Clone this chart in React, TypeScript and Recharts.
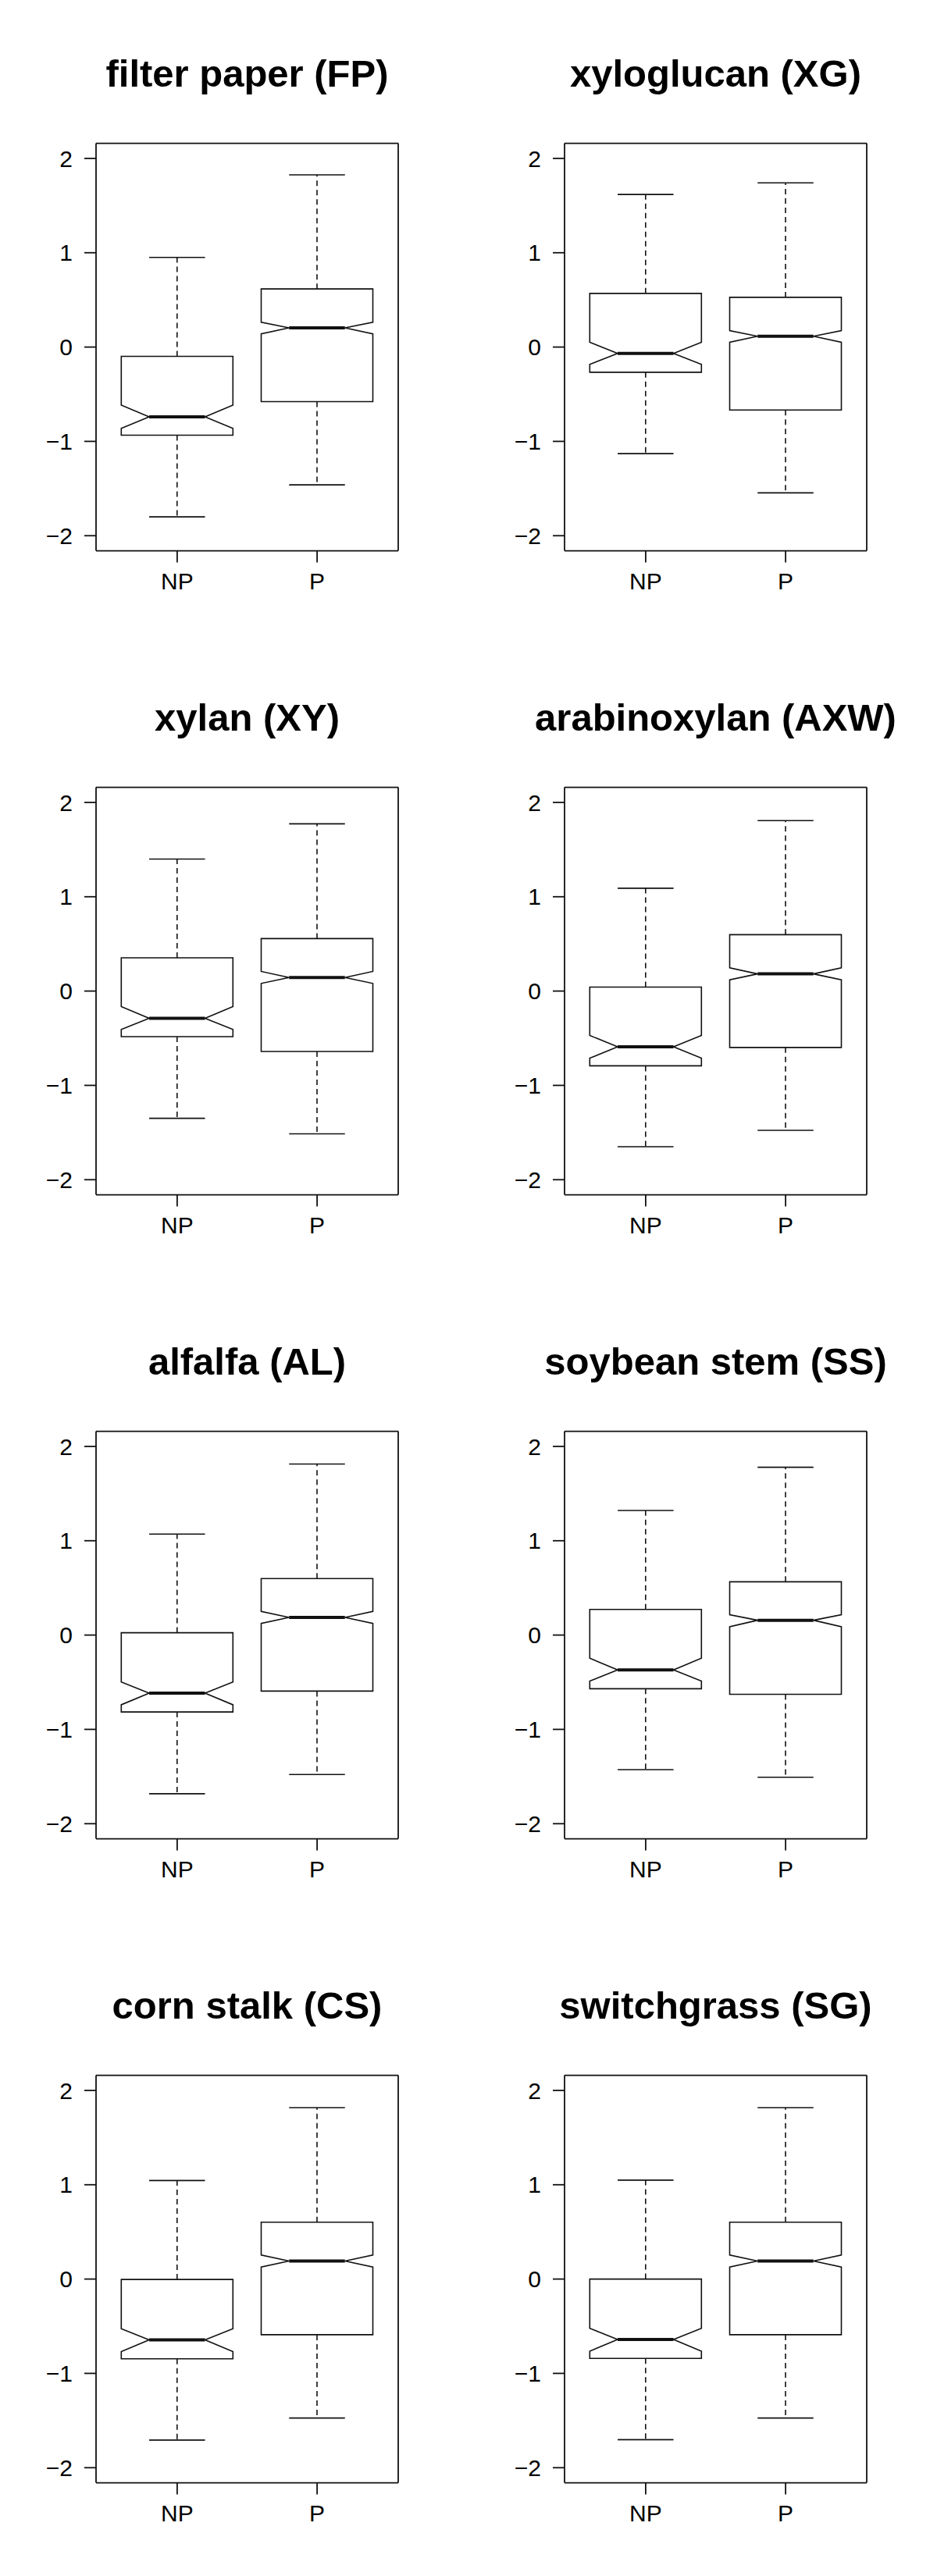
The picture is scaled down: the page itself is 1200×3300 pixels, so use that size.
import React from "react";
import { ComposedChart, Bar, XAxis, YAxis } from "recharts";

const groups = ["NP", "P"];
const titles = [
  "filter paper (FP)",
  "xyloglucan (XG)",
  "xylan (XY)",
  "arabinoxylan (AXW)",
  "alfalfa (AL)",
  "soybean stem (SS)",
  "corn stalk (CS)",
  "switchgrass (SG)",
];
const yTicks = [-2, -1, 0, 1, 2];
const yDomain = [-2.16, 2.16];

// [whisker low, Q1, notch low, median, notch high, Q3, whisker high]
const fpNP = [-1.8, -0.934, -0.862, -0.739, -0.616, -0.098, 0.951];
const fpP = [-1.461, -0.578, 0.14, 0.204, 0.263, 0.616, 1.826];
const xgNP = [-1.13, -0.267, -0.183, -0.068, 0.051, 0.569, 1.618];
const xgP = [-1.546, -0.667, 0.051, 0.115, 0.174, 0.527, 1.741];
const xyNP = [-1.349, -0.483, -0.407, -0.288, -0.165, 0.352, 1.4];
const xyP = [-1.514, -0.64, 0.081, 0.144, 0.208, 0.556, 1.773];
const axwNP = [-1.65, -0.793, -0.712, -0.59, -0.471, 0.042, 1.09];
const axwP = [-1.476, -0.598, 0.119, 0.182, 0.246, 0.598, 1.807];
const alNP = [-1.682, -0.815, -0.739, -0.616, -0.497, 0.025, 1.07];
const alP = [-1.478, -0.594, 0.123, 0.187, 0.251, 0.599, 1.813];
const ssNP = [-1.427, -0.569, -0.488, -0.369, -0.246, 0.272, 1.321];
const ssP = [-1.507, -0.628, 0.089, 0.157, 0.216, 0.565, 1.779];
const csNP = [-1.707, -0.845, -0.769, -0.645, -0.527, -0.004, 1.045];
const csP = [-1.473, -0.59, 0.127, 0.191, 0.255, 0.603, 1.817];
const sgNP = [-1.703, -0.841, -0.764, -0.641, -0.522, 0.0, 1.049];
const sgP = [-1.473, -0.59, 0.127, 0.191, 0.255, 0.603, 1.817];

const panelStats = [
  [fpNP, fpP],
  [xgNP, xgP],
  [xyNP, xyP],
  [axwNP, axwP],
  [alNP, alP],
  [ssNP, ssP],
  [csNP, csP],
  [sgNP, sgP],
];

const FONT = "'Liberation Sans', Arial, Helvetica, sans-serif";
const INK = "#111";

const NotchedBox = (props: any) => {
  const { x, y, width, height } = props;
  const p = props.payload ?? props;
  const s: number[] = p.stats;
  if (!s || height == null) return null;
  const lo = s[0];
  const hi = s[6];
  const py = (v: number) => y + ((hi - v) / (hi - lo)) * height;
  const cx = x + width / 2;
  const half = width / 2;
  const q = width / 4;
  const yLo = py(s[0]);
  const yQ1 = py(s[1]);
  const yNl = py(s[2]);
  const yMed = py(s[3]);
  const yNh = py(s[4]);
  const yQ3 = py(s[5]);
  const yHi = py(s[6]);
  const d = [
    `M${cx - half},${yQ3}`,
    `L${cx + half},${yQ3}`,
    `L${cx + half},${yNh}`,
    `L${cx + q},${yMed}`,
    `L${cx + half},${yNl}`,
    `L${cx + half},${yQ1}`,
    `L${cx - half},${yQ1}`,
    `L${cx - half},${yNl}`,
    `L${cx - q},${yMed}`,
    `L${cx - half},${yNh}`,
    "Z",
  ].join(" ");
  return (
    <g>
      <line x1={cx} y1={yQ3} x2={cx} y2={yHi} stroke={INK} strokeWidth={1.6} strokeDasharray="7 5" />
      <line x1={cx} y1={yQ1} x2={cx} y2={yLo} stroke={INK} strokeWidth={1.6} strokeDasharray="7 5" />
      <line x1={cx - q} y1={yHi} x2={cx + q} y2={yHi} stroke={INK} strokeWidth={1.6} />
      <line x1={cx - q} y1={yLo} x2={cx + q} y2={yLo} stroke={INK} strokeWidth={1.6} />
      <path d={d} fill="#fff" stroke={INK} strokeWidth={1.6} strokeLinejoin="miter" />
      <line x1={cx - q} y1={yMed} x2={cx + q} y2={yMed} stroke={INK} strokeWidth={4} />
    </g>
  );
};

const fmtY = (v: number) => (v < 0 ? "\u2212" + Math.abs(v) : String(v));

const Panel = ({ title, stats }: { title: string; stats: number[][] }) => {
  const data = groups.map((g, i) => ({
    name: g,
    range: [stats[i][0], stats[i][6]],
    stats: stats[i],
  }));
  const tickStyle = { fontSize: 30, fill: "#000", fontFamily: FONT };
  const lineStyle = { stroke: INK, strokeWidth: 1.8 };
  return (
    <div style={{ position: "relative", width: 600, height: 825 }}>
      <ComposedChart
        width={600}
        height={825}
        data={data}
        margin={{ top: 182.6, right: 89, bottom: 59.4, left: 0 }}
      >
        <XAxis
          dataKey="name"
          type="category"
          padding={{ left: 14.3, right: 14.3 }}
          height={60}
          tickSize={15}
          tickMargin={13}
          axisLine={lineStyle}
          tickLine={lineStyle}
          tick={tickStyle}
          interval={0}
        />
        <XAxis
          xAxisId="top"
          dataKey="name"
          orientation="top"
          height={1}
          tick={false}
          tickLine={false}
          axisLine={lineStyle}
        />
        <YAxis
          type="number"
          domain={yDomain}
          ticks={yTicks}
          allowDataOverflow
          width={123}
          tickSize={15}
          tickMargin={15}
          axisLine={lineStyle}
          tickLine={lineStyle}
          tick={tickStyle}
          tickFormatter={fmtY}
          interval={0}
        />
        <YAxis
          yAxisId="right"
          orientation="right"
          type="number"
          domain={yDomain}
          width={1}
          tick={false}
          tickLine={false}
          axisLine={lineStyle}
        />
        <Bar dataKey="range" barSize={143} shape={NotchedBox} isAnimationActive={false} />
      </ComposedChart>
      <svg
        width={600}
        height={150}
        style={{ position: "absolute", left: 0, top: 0, pointerEvents: "none" }}
      >
        <text
          x={316.5}
          y={111}
          textAnchor="middle"
          fontFamily={FONT}
          fontWeight="bold"
          fontSize={49}
          fill="#000"
        >
          {title}
        </text>
      </svg>
    </div>
  );
};

export default function App() {
  return (
    <div
      style={{
        position: "absolute",
        left: 0,
        top: 0,
        width: 1200,
        height: 3300,
        background: "#fff",
        display: "grid",
        gridTemplateColumns: "600px 600px",
        gridTemplateRows: "repeat(4, 825px)",
      }}
    >
      {titles.map((t, i) => (
        <Panel key={t} title={t} stats={panelStats[i]} />
      ))}
    </div>
  );
}
